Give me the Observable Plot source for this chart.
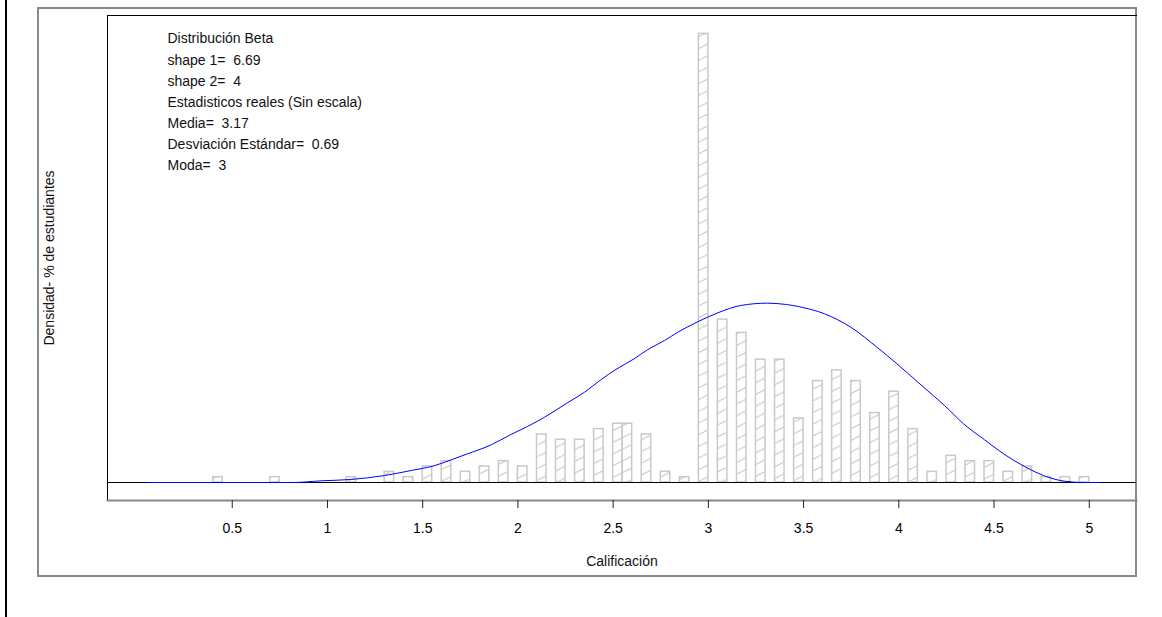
<!DOCTYPE html>
<html>
<head>
<meta charset="utf-8">
<script src="https://cdn.jsdelivr.net/npm/d3@7"></script>
<script src="https://cdn.jsdelivr.net/npm/@observablehq/plot@0.6"></script>
<style>
  html, body { margin: 0; padding: 0; background: #fff; }
  #wrap { position: relative; width: 1162px; height: 617px; overflow: hidden; background: #fff; }
  #leftline { position: absolute; left: 5px; top: 0; width: 2px; height: 617px; background: #000; }
  #box { position: absolute; left: 37px; top: 7px; width: 1100px; height: 570px; box-sizing: border-box; border: 2px solid #888; }
  #wrap svg { position: absolute; left: 0; top: 0; }
</style>
</head>
<body>
<div id="wrap"><div id="leftline"></div><div id="box"></div></div>
<script>
// Histogram bins (left edge of each 0.05-wide bin) and bar heights
const binStart = [0.40,0.70,1.10,1.30,1.40,1.50,1.60,1.70,1.80,1.90,2.00,2.10,2.20,2.30,2.40,2.50,2.55,2.65,2.75,2.85,2.95,3.05,3.15,3.25,3.35,3.45,3.55,3.65,3.75,3.85,3.95,4.05,4.15,4.25,4.35,4.45,4.55,4.65,4.75,4.85,4.95];
const altura   = [1,1,1,2,1,3,4,2,3,4,3,9,8,8,10,11,11,9,2,1,84,30.5,28,23,23,12,19,21,19,13,17,10,2,5,4,4,2,3,1,1,1];
const binWidth = 0.05;

// Fitted beta density curve
const curveX = [0.05,0.82,0.97,1.12,1.30,1.44,1.56,1.65,1.73,1.86,1.96,2.05,2.14,2.26,2.35,2.43,2.52,2.61,2.68,2.77,2.84,2.94,3.05,3.17,3.31,3.41,3.48,3.61,3.75,3.89,3.99,4.13,4.24,4.34,4.45,4.55,4.66,4.76,4.87,4.97,5.05];
const curveY = [0,0,0.32,0.56,1.31,2.25,3.13,4.25,5.30,7.06,8.93,10.49,12.23,14.93,16.91,19.10,21.29,23.16,24.85,26.59,28.15,30.02,31.78,33.15,33.58,33.33,32.90,31.59,29.03,25.19,22.23,17.85,14.42,10.99,8.00,5.37,3.00,1.31,0.24,0,0];

const xTicks = [0.5,1,1.5,2,2.5,3,3.5,4,4.5,5];
const tickLabels = ["0.5","1","1.5","2","2.5","3","3.5","4","4.5","5"];

const annotationLines = [
  "Distribución Beta",
  "shape 1=  6.69",
  "shape 2=  4",
  "Estadisticos reales (Sin escala)",
  "Media=  3.17",
  "Desviación Estándar=  0.69",
  "Moda=  3"
];
const xLabel = "Calificación";
const yLabel = "Densidad- % de estudiantes";

const bars = binStart.map((s, i) => ({x1: s, x2: s + binWidth, y1: 0, y2: altura[i]}));
const curve = curveX.map((x, i) => ({x, y: curveY[i]}));

const plot = Plot.plot({
  width: 1162,
  height: 617,
  marginLeft: 107,
  marginRight: 26,
  marginTop: 15,
  marginBottom: 117,
  style: {fontFamily: "'Liberation Sans', Arial, sans-serif", fontSize: "14px", color: "#000", background: "transparent", overflow: "visible"},
  x: {domain: [-0.155, 5.248], axis: null},
  y: {domain: [-3.37, 87.45], axis: null},
  marks: [
    Plot.rect(bars, {x1: "x1", x2: "x2", y1: "y1", y2: "y2", fill: "url(#hatch)", stroke: "#c9c9c9", strokeWidth: 1.5}),
    Plot.ruleY([0], {stroke: "#000", strokeWidth: 1}),
    Plot.line(curve, {x: "x", y: "y", stroke: "#0000ff", strokeWidth: 1, curve: "monotone-x"}),
    Plot.frame({anchor: "top", stroke: "#000"}),
    Plot.frame({anchor: "left", stroke: "#000"}),
    Plot.frame({anchor: "bottom", stroke: "#888", strokeWidth: 2}),
    Plot.axisX(xTicks, {tickSize: 8, tickPadding: 15, label: null, stroke: "#222", fontSize: 14, tickFormat: d => tickLabels[xTicks.indexOf(d)]}),
    Plot.text([annotationLines.join("\n")], {frameAnchor: "top-left", dx: 60, dy: 13, lineAnchor: "top", textAnchor: "start", fontSize: 14, lineHeight: 1.507, fill: "#111"}),
    Plot.text([xLabel], {frameAnchor: "bottom", dy: 65, fontSize: 14, fill: "#111"}),
    Plot.text([yLabel], {frameAnchor: "left", dx: -58, rotate: -90, textAnchor: "middle", fontSize: 14, fill: "#111"})
  ]
});

// hatch pattern definition
const ns = "http://www.w3.org/2000/svg";
const defs = document.createElementNS(ns, "defs");
const pat = document.createElementNS(ns, "pattern");
const pw = 23.4, ph = 11.7;
pat.setAttribute("id", "hatch");
pat.setAttribute("patternUnits", "userSpaceOnUse");
pat.setAttribute("width", pw);
pat.setAttribute("height", ph);
const path = document.createElementNS(ns, "path");
path.setAttribute("d", `M0,${ph} L${pw},0 M${-pw},${ph} L0,0 M${pw},${ph} L${2*pw},0`);
path.setAttribute("stroke", "#bdbdbd");
path.setAttribute("stroke-width", "1");
path.setAttribute("fill", "none");
pat.appendChild(path);
defs.appendChild(pat);
plot.insertBefore(defs, plot.firstChild);

document.getElementById("wrap").appendChild(plot);
</script>
</body>
</html>
